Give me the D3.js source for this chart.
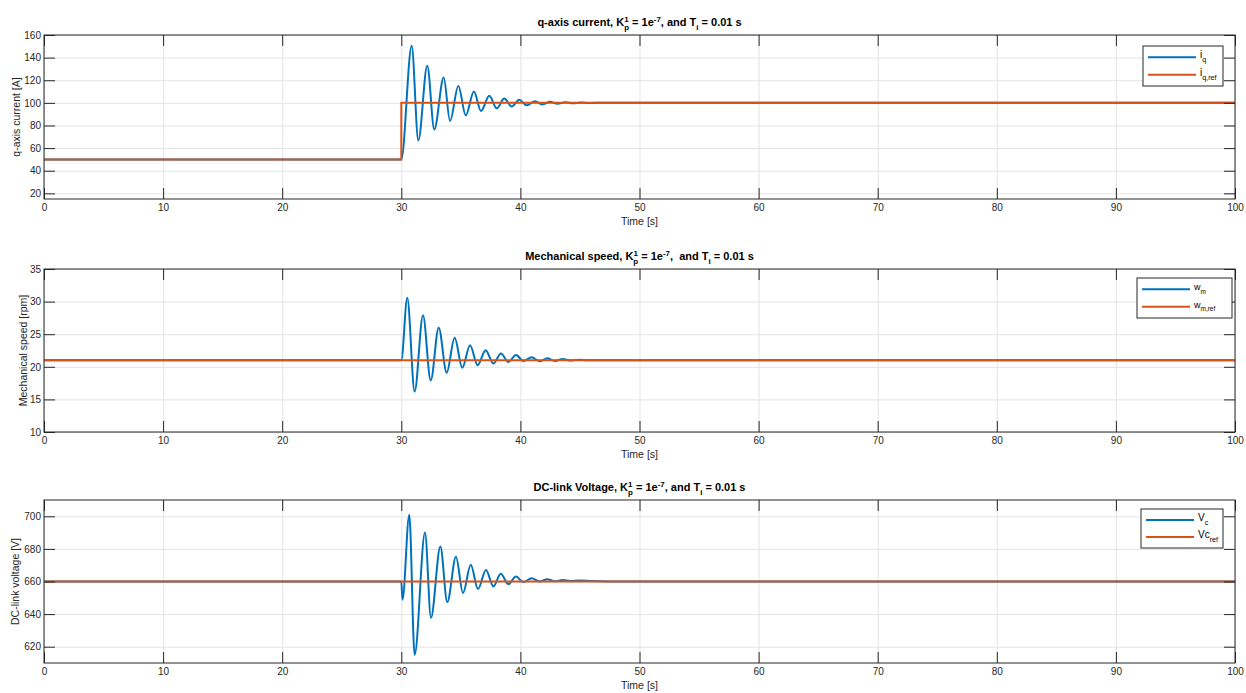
<!DOCTYPE html>
<html>
<head>
<meta charset="utf-8">
<script src="https://cdn.jsdelivr.net/npm/d3@7"></script>
<style>
  body { margin: 0; background: #fff; }
  svg { font-family: "Liberation Sans", Arial, Helvetica, sans-serif; }
  .grid line { stroke: #e4e4e4; stroke-width: 1; }
  .grid path { display: none; }
  .ax line { stroke: #262626; stroke-width: 1; }
  .ax path { display: none; }
  .ax text { fill: #262626; font-size: 10px; }
</style>
</head>
<body>
<svg id="chart" width="1246" height="693"></svg>
<script>
// shared time axis [s]
var timeTicks = [0, 10, 20, 30, 40, 50, 60, 70, 80, 90, 100];

// q-axis current (extrema)
var iqTime = [0, 30, 30.87, 31.43, 32.18, 32.77, 33.56, 34.09, 34.79, 35.41, 36.1, 36.69, 37.39, 38.01,
              38.65, 39.27, 39.9, 40.53, 41.23, 41.84, 42.5, 43.1, 43.8, 44.4, 45.1, 45.7, 46.4, 48, 100];
var iqVals = [50, 50, 150.6, 66.8, 132.8, 76.5, 122.4, 84, 115, 89, 110, 92.8, 106.2, 95.2,
              103.8, 96.7, 102.7, 97.8, 101.4, 98.6, 100.9, 99.2, 100.6, 99.6, 100.3, 99.8, 100.15, 100, 100];
var iqRefTime = [0, 30, 30, 100];
var iqRefVals = [50, 50, 100, 100];
var iqTicks = [20, 40, 60, 80, 100, 120, 140, 160];

// mechanical speed
var wmTime = [0, 30, 30.5, 31.12, 31.82, 32.47, 33.14, 33.81, 34.48, 35.12, 35.77, 36.41, 37.08, 37.73,
              38.37, 38.99, 39.63, 40.25, 40.95, 41.6, 42.25, 42.9, 43.55, 44.2, 44.9, 45.5, 48, 100];
var wmVals = [21, 21, 30.6, 16.2, 27.9, 17.9, 26, 19.1, 24.45, 19.85, 23.3, 20.25, 22.55, 20.5,
              22.05, 20.75, 21.8, 20.9, 21.45, 20.85, 21.3, 20.9, 21.2, 20.95, 21.1, 21, 21, 21];
var wmRefTime = [0, 100];
var wmRefVals = [21, 21];
var wmTicks = [10, 15, 20, 25, 30, 35];

// DC-link voltage
var vcTime = [0, 30, 30.1, 30.67, 31.12, 31.99, 32.49, 33.28, 33.86, 34.59, 35.18, 35.83, 36.44, 37.11,
              37.73, 38.35, 38.99, 39.63, 40.25, 40.95, 41.6, 42.25, 42.9, 43.55, 44.2, 44.9, 46, 48, 100];
var vcVals = [660, 660, 648.8, 701, 615, 690, 637.7, 681.5, 647.4, 675.2, 652.9, 670.2, 655.4, 667.1,
              657, 664.7, 658.4, 663, 659.6, 662, 660, 661.4, 660.2, 660.9, 660.3, 660.6, 660.3, 660, 660];
var vcRefTime = [0, 100];
var vcRefVals = [660, 660];
var vcTicks = [620, 640, 660, 680, 700];

var blue = "#0072BD", orange = "#D95319";
var svg = d3.select("#chart");
var left = 44, right = 1235;
var x = d3.scaleLinear().domain([0, 100]).range([left, right]);

function zip(t, v) {
    return t.map(function(d, i) { return [d, v[i]]; });
}

// rich text helper: parts = [[text, "n"|"sup"|"sub"|"subafter"]]
function richText(g, parts, size, weight) {
    var txt = g.append("text")
        .attr("font-size", size)
        .attr("font-weight", weight)
        .attr("fill", "#000")
        .style("white-space", "pre");
    var shift = 0, lastSupW = 0;
    parts.forEach(function(p) {
        var s = p[0], kind = p[1];
        var ts = txt.append("tspan").text(s);
        var target = 0;
        if (kind == "sup") target = -size * 0.38;
        if (kind == "sub" || kind == "subafter") target = size * 0.38;
        ts.attr("dy", target - shift);
        shift = target;
        if (kind != "n") ts.attr("font-size", size * 0.72);
        if (kind == "subafter") ts.attr("dx", -lastSupW);
        if (kind == "sup") lastSupW = s.length * size * 0.72 * 0.56;
    });
    return txt;
}

function panel(cfg) {
    var y = d3.scaleLinear().domain(cfg.domain).range([cfg.bottom, cfg.top]);
    var g = svg.append("g");
    var h = cfg.bottom - cfg.top, w = right - left;

    g.append("g").attr("class", "grid")
        .attr("transform", "translate(0," + cfg.bottom + ")")
        .call(d3.axisBottom(x).tickValues(timeTicks).tickSize(-h).tickFormat(""));
    g.append("g").attr("class", "grid")
        .attr("transform", "translate(" + left + ",0)")
        .call(d3.axisLeft(y).tickValues(cfg.ticks).tickSize(-w).tickFormat(""));

    var line = d3.line().x(function(d) { return x(d[0]); }).y(function(d) { return y(d[1]); });
    var smooth = d3.line().curve(d3.curveMonotoneX)
        .x(function(d) { return x(d[0]); }).y(function(d) { return y(d[1]); });

    g.append("path").datum(zip(cfg.t, cfg.v))
        .attr("d", smooth).attr("fill", "none").attr("stroke", blue).attr("stroke-width", 2);
    g.append("path").datum(zip(cfg.rt, cfg.rv))
        .attr("d", line).attr("fill", "none").attr("stroke", orange).attr("stroke-width", 2);

    // axes with inward ticks, all four sides
    g.append("g").attr("class", "ax")
        .attr("transform", "translate(0," + cfg.bottom + ")")
        .call(d3.axisBottom(x).tickValues(timeTicks).tickSizeInner(-11).tickSizeOuter(0).tickPadding(5));
    g.append("g").attr("class", "ax")
        .attr("transform", "translate(0," + cfg.top + ")")
        .call(d3.axisTop(x).tickValues(timeTicks).tickSizeInner(-11).tickSizeOuter(0).tickFormat(""));
    g.append("g").attr("class", "ax")
        .attr("transform", "translate(" + left + ",0)")
        .call(d3.axisLeft(y).tickValues(cfg.ticks).tickSizeInner(-11).tickSizeOuter(0).tickPadding(3));
    g.append("g").attr("class", "ax")
        .attr("transform", "translate(" + right + ",0)")
        .call(d3.axisRight(y).tickValues(cfg.ticks).tickSizeInner(-11).tickSizeOuter(0).tickFormat(""));

    g.append("rect")
        .attr("x", left).attr("y", cfg.top).attr("width", w).attr("height", h)
        .attr("fill", "none").attr("stroke", "#262626").attr("stroke-width", 1);

    g.append("text")
        .attr("x", (left + right) / 2).attr("y", cfg.bottom + 26)
        .attr("text-anchor", "middle").attr("font-size", 10.5).attr("fill", "#262626")
        .text("Time [s]");
    g.append("text")
        .attr("transform", "translate(" + cfg.ylabX + "," + ((cfg.top + cfg.bottom) / 2) + ") rotate(-90)")
        .attr("text-anchor", "middle").attr("dy", "0.35em")
        .attr("font-size", 10.5).attr("fill", "#262626")
        .text(cfg.ylabel);

    // title
    var tt = richText(g, cfg.title, 11, "bold");
    var tw = tt.node().getBBox().width;
    tt.attr("x", (left + right) / 2 - tw / 2).attr("y", cfg.top - 9);

    // legend
    var L = cfg.legend;
    var lg = g.append("g");
    lg.append("rect").attr("x", L.x).attr("y", L.y).attr("width", L.w).attr("height", L.h)
        .attr("fill", "#fff").attr("stroke", "#262626").attr("stroke-width", 1);
    [[blue, L.items[0]], [orange, L.items[1]]].forEach(function(it, i) {
        var ly = L.y + L.h * (i == 0 ? 0.28 : 0.72);
        lg.append("line").attr("x1", L.x + 5).attr("x2", L.x + 53)
            .attr("y1", ly).attr("y2", ly).attr("stroke", it[0]).attr("stroke-width", 2);
        var t = richText(lg, it[1], L.fs, "normal");
        t.attr("x", L.x + 57).attr("y", ly + 1);
    });
}

panel({
    top: 35, bottom: 199, domain: [15, 160], ticks: iqTicks,
    t: iqTime, v: iqVals, rt: iqRefTime, rv: iqRefVals,
    ylabel: "q-axis current [A]", ylabX: 16,
    title: [["q-axis current, K", "n"], ["1", "sup"], ["p", "subafter"], [" = 1e", "n"], ["-7", "sup"],
            [", and T", "n"], ["i", "sub"], [" = 0.01 s", "n"]],
    legend: { x: 1143, y: 46, w: 80, h: 40, fs: 10,
              items: [[["i", "n"], ["q", "sub"]], [["i", "n"], ["q,ref", "sub"]]] }
});

panel({
    top: 269, bottom: 432, domain: [10, 35], ticks: wmTicks,
    t: wmTime, v: wmVals, rt: wmRefTime, rv: wmRefVals,
    ylabel: "Mechanical speed [rpm]", ylabX: 23,
    title: [["Mechanical speed, K", "n"], ["1", "sup"], ["p", "subafter"], [" = 1e", "n"], ["-7", "sup"],
            [",  and T", "n"], ["i", "sub"], [" = 0.01 s", "n"]],
    legend: { x: 1137, y: 278, w: 95, h: 40, fs: 9,
              items: [[["w", "n"], ["m", "sub"]], [["w", "n"], ["m,ref", "sub"]]] }
});

panel({
    top: 500, bottom: 663, domain: [610, 710], ticks: vcTicks,
    t: vcTime, v: vcVals, rt: vcRefTime, rv: vcRefVals,
    ylabel: "DC-link voltage [V]", ylabX: 15,
    title: [["DC-link Voltage, K", "n"], ["1", "sup"], ["p", "subafter"], [" = 1e", "n"], ["-7", "sup"],
            [", and T", "n"], ["i", "sub"], [" = 0.01 s", "n"]],
    legend: { x: 1141, y: 509, w: 82, h: 39, fs: 10,
              items: [[["V", "n"], ["c", "sub"]], [["Vc", "n"], ["ref", "sub"]]] }
});
</script>
</body>
</html>
